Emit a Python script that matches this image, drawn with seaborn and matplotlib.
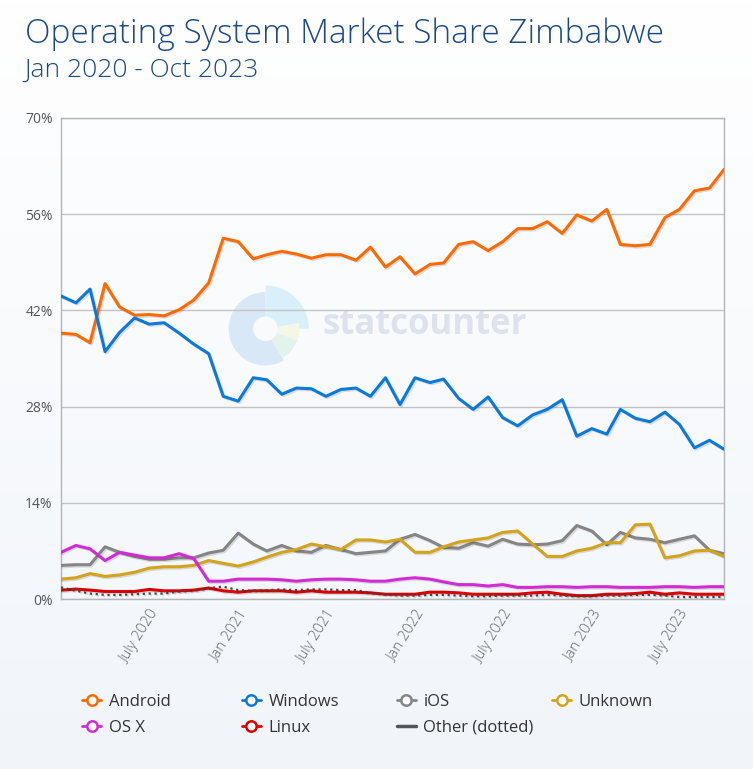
import numpy as np
import pandas as pd
import seaborn as sns
import matplotlib.pyplot as plt
import matplotlib.patheffects as pe
from matplotlib.lines import Line2D
from matplotlib.patches import Wedge

# monthly market share (%), Jan 2020 - Oct 2023
months = pd.date_range("2020-01-01", "2023-10-01", freq="MS")

android = [38.7, 38.5, 37.3, 45.9, 42.5, 41.3, 41.4, 41.2, 42.1, 43.5,
           46.0, 52.5, 52.0, 49.5, 50.1, 50.6, 50.2, 49.6, 50.1, 50.1,
           49.3, 51.2, 48.3, 49.8, 47.3, 48.7, 48.9, 51.6, 52.0, 50.7,
           52.0, 53.9, 53.9, 54.9, 53.2, 55.9, 55.0, 56.7, 51.6, 51.4,
           51.6, 55.5, 56.7, 59.4, 59.8, 62.5]
windows = [44.1, 43.1, 45.1, 36.0, 38.8, 40.9, 40.0, 40.2, 38.7, 37.1,
           35.7, 29.5, 28.8, 32.2, 31.9, 29.8, 30.7, 30.6, 29.5, 30.5,
           30.7, 29.5, 32.2, 28.3, 32.2, 31.5, 32.0, 29.2, 27.6, 29.4,
           26.4, 25.2, 26.8, 27.6, 29.0, 23.7, 24.8, 24.0, 27.6, 26.3,
           25.8, 27.2, 25.4, 22.0, 23.1, 21.8]
ios = [4.9, 5.0, 5.0, 7.6, 6.8, 6.2, 5.8, 5.8, 6.0, 6.0,
       6.7, 7.1, 9.6, 8.0, 7.0, 7.8, 7.0, 6.8, 7.8, 7.2,
       6.6, 6.8, 7.0, 8.7, 9.4, 8.5, 7.5, 7.4, 8.2, 7.7,
       8.7, 8.0, 7.9, 8.0, 8.5, 10.7, 9.9, 7.9, 9.7, 8.9,
       8.7, 8.2, 8.7, 9.2, 7.1, 6.6]
unknown = [2.9, 3.1, 3.7, 3.3, 3.5, 3.9, 4.5, 4.7, 4.7, 4.9,
           5.6, 5.2, 4.8, 5.4, 6.1, 6.8, 7.2, 8.0, 7.6, 7.2,
           8.6, 8.6, 8.3, 8.7, 6.8, 6.8, 7.6, 8.3, 8.6, 8.9,
           9.7, 9.9, 8.0, 6.2, 6.2, 7.0, 7.4, 8.2, 8.2, 10.8,
           10.9, 6.0, 6.3, 7.0, 7.1, 6.2]
osx = [6.8, 7.8, 7.3, 5.6, 6.8, 6.4, 6.0, 6.0, 6.6, 5.9,
       2.6, 2.6, 2.9, 2.9, 2.9, 2.8, 2.6, 2.8, 2.9, 2.9,
       2.8, 2.6, 2.6, 2.9, 3.1, 2.9, 2.5, 2.1, 2.1, 1.9,
       2.1, 1.7, 1.7, 1.8, 1.8, 1.7, 1.8, 1.8, 1.7, 1.7,
       1.7, 1.8, 1.8, 1.7, 1.8, 1.8]
linux = [1.3, 1.45, 1.3, 1.1, 1.1, 1.1, 1.4, 1.2, 1.2, 1.3,
         1.6, 1.2, 1.0, 1.2, 1.2, 1.2, 1.0, 1.2, 1.0, 1.0,
         1.0, 0.9, 0.7, 0.7, 0.7, 1.0, 1.0, 0.9, 0.7, 0.7,
         0.7, 0.7, 0.9, 1.0, 0.7, 0.5, 0.5, 0.7, 0.7, 0.8,
         1.0, 0.7, 0.9, 0.7, 0.7, 0.7]
other = [1.7, 1.2, 0.8, 0.6, 0.6, 0.7, 0.8, 0.8, 1.1, 1.2,
         1.6, 1.8, 1.3, 1.2, 1.3, 1.4, 1.3, 1.4, 1.4, 1.3,
         1.3, 0.9, 0.7, 0.5, 0.5, 0.6, 0.6, 0.5, 0.4, 0.4,
         0.5, 0.5, 0.5, 0.6, 0.5, 0.4, 0.4, 0.5, 0.5, 0.6,
         0.6, 0.5, 0.3, 0.3, 0.3, 0.3]

series_names = ["Android", "Windows", "iOS", "Unknown", "OS X", "Linux", "Other (dotted)"]
series_values = [android, windows, ios, unknown, osx, linux, other]
series_colors = ["#ff6a00", "#0b79d8", "#858585", "#d4a31c", "#d42ad4", "#d80000", "#444444"]

tick_labels = ["July 2020", "Jan 2021", "July 2021", "Jan 2022", "July 2022", "Jan 2023", "July 2023"]
tick_dates = pd.to_datetime(["2020-07-01", "2021-01-01", "2021-07-01", "2022-01-01",
                             "2022-07-01", "2023-01-01", "2023-07-01"])
y_ticks = [0, 14, 28, 42, 56, 70]

sns.set_style("white")
plt.rcParams["font.family"] = ["Open Sans", "DejaVu Sans"]

fig = plt.figure(figsize=(7.53, 7.69), dpi=100)

# faint background gradient
bg = fig.add_axes([0, 0, 1, 1], zorder=-10)
grad = np.linspace(0, 1, 256).reshape(-1, 1)
bg.imshow(grad, aspect="auto", extent=[0, 1, 0, 1], origin="upper",
          cmap=sns.blend_palette(["#ffffff", "#f1f5fa"], as_cmap=True))
bg.set_axis_off()

# watermark (behind the chart)
wm = fig.add_axes([0.29, 0.51, 0.125, 0.125], zorder=-5)
wm.set_xlim(-1, 1)
wm.set_ylim(-1, 1)
wm.set_aspect("equal")
wm.set_axis_off()
for t1, t2, c, r in [(90, 300, "#d8e8f6", 0.78), (0, 90, "#d9f0fa", 0.92),
                     (-20, 10, "#f3f7e6", 0.72), (-60, -20, "#e4f2ec", 0.72)]:
    wm.add_patch(Wedge((0, 0), r, t1, t2, width=r - 0.26, color=c, lw=0))
bg.text(0.428, 0.577, "statcounter", fontsize=25, fontweight="bold",
        color="#dde2ec", va="center", ha="left", transform=fig.transFigure)

ax = fig.add_axes([0.081, 0.221, 0.8805, 0.6256], zorder=1)
ax.set_facecolor("none")

shadow = [pe.SimpleLineShadow(offset=(1, -1), shadow_color="#000000", alpha=0.12), pe.Normal()]
df = pd.DataFrame({"month": months})
for name, vals, col in zip(series_names, series_values, series_colors):
    df["share"] = vals
    ls = ":" if name.startswith("Other") else "-"
    lw = 1.6 if name.startswith("Other") else 2.2
    sns.lineplot(data=df, x="month", y="share", ax=ax, color=col, linewidth=lw,
                 linestyle=ls, path_effects=shadow, zorder=3)

ax.set_xlim(months[0], months[-1])
ax.set_ylim(0, 70)
ax.set_yticks(y_ticks)
ax.set_yticklabels([f"{v}%" for v in y_ticks], color="#555555", fontsize=10)
ax.yaxis.grid(True, color="#c4c4c4", linewidth=1)
ax.xaxis.grid(False)
ax.set_xticks(tick_dates)
ax.set_xticklabels(tick_labels, rotation=58, ha="right", va="top",
                   rotation_mode="anchor", color="#666666", fontsize=10.5, fontweight="light")
ax.tick_params(axis="both", length=0, pad=6)
ax.set_xlabel("")
ax.set_ylabel("")
for s in ax.spines.values():
    s.set_color("#b4b4b4")
    s.set_linewidth(1)

fig.text(0.033, 0.956, "Operating System Market Share Zimbabwe", fontsize=24,
         color="#1d4a80", va="center", ha="left", fontweight="light")
fig.text(0.033, 0.909, "Jan 2020 - Oct 2023", fontsize=19,
         color="#1d4a80", va="center", ha="left", fontweight="light")

handles = []
for name, col in zip(series_names, series_colors):
    if name.startswith("Other"):
        handles.append(Line2D([], [], color="#555555", linewidth=2.5))
    else:
        handles.append(Line2D([], [], color=col, linewidth=2, marker="o", markersize=7.5,
                              markerfacecolor="white", markeredgecolor=col, markeredgewidth=1.8))

# one small legend per column so the columns sit at even spacing
columns = [[0, 4], [1, 5], [2, 6], [3]]
col_x = [0.109, 0.321, 0.527, 0.733]
for cx, idx in zip(col_x, columns):
    leg = fig.legend([handles[i] for i in idx], [series_names[i] for i in idx],
                     loc="upper left", bbox_to_anchor=(cx, 0.098), ncol=1, frameon=False,
                     fontsize=12, handlelength=1.15, handletextpad=0.45,
                     labelspacing=0.6, borderpad=0, borderaxespad=0)
    for t in leg.get_texts():
        t.set_color("#333333")

fig.savefig("out.png", dpi=100)
